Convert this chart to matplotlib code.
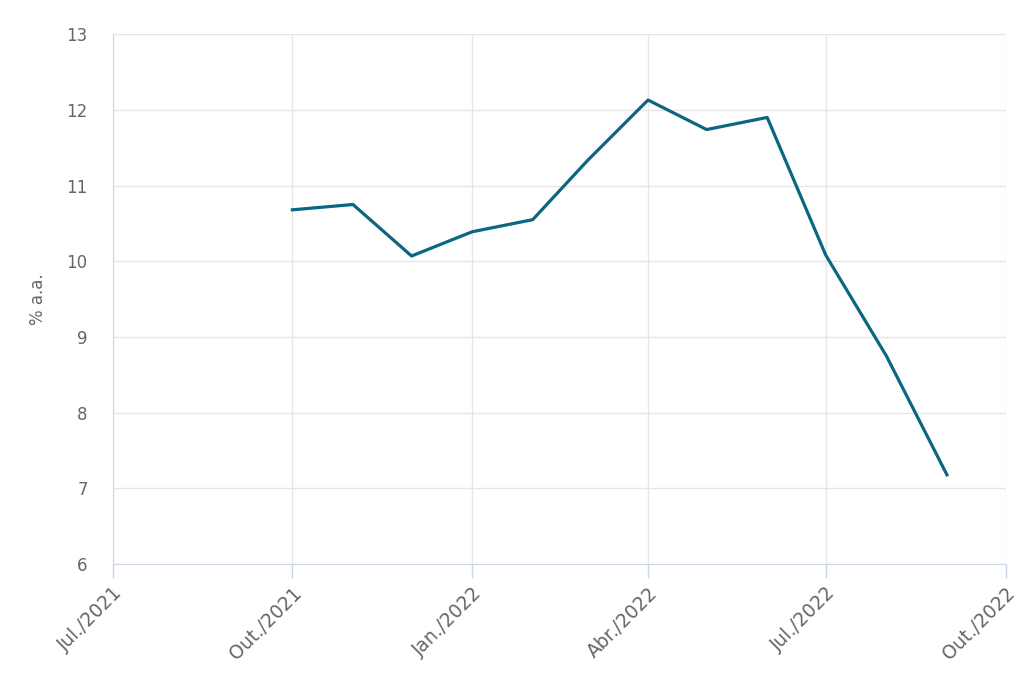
import datetime as dt
import matplotlib
matplotlib.use("Agg")
import matplotlib.pyplot as plt
import matplotlib.transforms as mtransforms

plt.rcParams['font.family'] = ['DejaVu Sans']

# monthly values, % a.a.
months = [dt.date(2021, 10, 1), dt.date(2021, 11, 1), dt.date(2021, 12, 1),
          dt.date(2022, 1, 1), dt.date(2022, 2, 1), dt.date(2022, 3, 1),
          dt.date(2022, 4, 1), dt.date(2022, 5, 1), dt.date(2022, 6, 1),
          dt.date(2022, 7, 1), dt.date(2022, 8, 1), dt.date(2022, 9, 1)]
rates = [10.68, 10.75, 10.07, 10.39, 10.55, 11.33, 12.13, 11.74, 11.90, 10.08, 8.75, 7.18]

tick_dates = [dt.date(2021, 7, 1), dt.date(2021, 10, 1), dt.date(2022, 1, 1),
              dt.date(2022, 4, 1), dt.date(2022, 7, 1), dt.date(2022, 10, 1)]
tick_labels = ["Jul./2021", "Out./2021", "Jan./2022", "Abr./2022", "Jul./2022", "Out./2022"]

text_col = "#666666"
axis_col = "#ccd6eb"
grid_col = "#e6e6e6"

fig = plt.figure(figsize=(10.24, 6.83), dpi=100)
ax = fig.add_axes([0.110, 0.174, 0.872, 0.776])

ax.plot(months, rates, color="#0b6680", linewidth=2.3, solid_joinstyle="round")

ax.set_xlim(tick_dates[0], tick_dates[-1])
ax.set_ylim(6, 13)
ax.set_yticks(range(6, 14))
ax.set_xticks(tick_dates)
ax.set_xticklabels(tick_labels, rotation=45, ha="right", rotation_mode="anchor")

# nudge rotated labels a bit to the right, like the original
shift = mtransforms.ScaledTranslation(12 / 100, -2 / 100, fig.dpi_scale_trans)
for lab in ax.get_xticklabels():
    lab.set_transform(lab.get_transform() + shift)

ax.grid(True, color=grid_col, linewidth=1.0)
ax.set_axisbelow(True)
for side in ["top", "right"]:
    ax.spines[side].set_visible(False)
ax.spines["left"].set_color(axis_col)
ax.spines["bottom"].set_color(axis_col)

ax.tick_params(axis="x", colors=axis_col, length=10, width=1, labelcolor=text_col,
               labelsize=13.5, pad=4)
ax.tick_params(axis="y", length=0, labelcolor=text_col, labelsize=12, pad=18)

ax.set_ylabel("% a.a.", color=text_col, fontsize=12, labelpad=14)

fig.savefig("out.png", dpi=100)
